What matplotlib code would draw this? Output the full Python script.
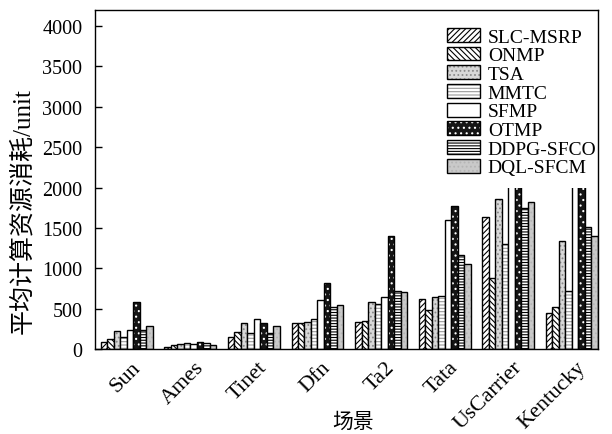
import numpy as np
import matplotlib
matplotlib.use("Agg")
import matplotlib.pyplot as plt
import matplotlib.transforms as mtransforms
from matplotlib.patches import Rectangle
from matplotlib.legend_handler import HandlerTuple

plt.rcParams['font.family'] = ['Liberation Serif', 'Noto Sans CJK SC']
plt.rcParams['hatch.linewidth'] = 0.8

scenes = ["Sun", "Ames", "Tinet", "Dfn", "Ta2", "Tata", "UsCarrier", "Kentucky"]
methods = ["SLC-MSRP", "ONMP", "TSA", "MMTC", "SFMP", "OTMP", "DDPG-SFCO", "DQL-SFCM"]

# values (tall UsCarrier/Kentucky bars sit behind the legend)
slc_msrp = [95, 33, 145, 318, 334, 615, 1631, 450]
onmp = [132, 50, 212, 318, 347, 482, 883, 516]
tsa = [227, 64, 328, 332, 586, 640, 1858, 1337]
mmtc = [145, 80, 196, 375, 561, 656, 1304, 722]
sfmp = [235, 62, 371, 603, 644, 1602, 2600, 2400]
otmp = [590, 95, 320, 817, 1395, 1775, 3200, 3700]
ddpg_sfco = [243, 74, 206, 516, 722, 1160, 1742, 1507]
dql_sfcm = [293, 54, 293, 545, 710, 1049, 1820, 1395]

series = [slc_msrp, onmp, tsa, mmtc, sfmp, otmp, ddpg_sfco, dql_sfcm]

# (facecolor, hatch colour, hatch)
styles = [
    ("white", "black", "//////"),
    ("white", "black", "\\\\\\\\\\\\"),
    ("#d8d8d8", "#8a8a8a", "...."),
    ("white", "#9a9a9a", "-----"),
    ("white", "white", ""),
    ("#151515", "white", "..."),
    ("white", "black", "------"),
    ("#c9c9c9", "#b5b5b5", "...."),
]

fig = plt.figure(figsize=(6.12, 4.35), dpi=100)
ax = fig.add_axes([0.155, 0.195, 0.822, 0.78])

x = np.arange(len(scenes))
w = 0.102
handles = []
for i, (vals, (fc, hc, h)) in enumerate(zip(series, styles)):
    pos = x + (i - 3.5) * w
    fill = ax.bar(pos, vals, w, color=fc, edgecolor=hc, hatch=h, linewidth=0)
    edge = ax.bar(pos, vals, w, facecolor="none", edgecolor="black", linewidth=1.0)
    handles.append((fill, edge))

ax.set_xlim(-0.5, 7.41)
ax.set_ylim(0, 4200)
ax.set_yticks(np.arange(0, 4001, 500))
ax.tick_params(axis='y', direction='in', length=5, labelsize=14.5, width=1, pad=9)
ax.tick_params(axis='x', length=0, labelsize=16, pad=6)
ax.set_xticks(x)
ax.set_xticklabels(scenes, rotation=45, ha='right', rotation_mode='anchor')
shift = mtransforms.ScaledTranslation(0.04, 0, fig.dpi_scale_trans)
for lab in ax.get_xticklabels():
    lab.set_transform(lab.get_transform() + shift)
for s in ax.spines.values():
    s.set_linewidth(1.0)
    s.set_zorder(6)

ax.set_ylabel("平均计算资源消耗/unit", fontsize=18)
ax.yaxis.set_label_coords(-0.143, 0.41)
ax.yaxis.label.set_va('center')
ax.set_xlabel("场景", fontsize=15)
ax.xaxis.set_label_coords(0.513, -0.215)
ax.xaxis.label.set_va('center')

# white block behind the legend hides the tops of the tall bars
ax.add_patch(Rectangle((0.686, 0.475), 0.314, 0.525, transform=ax.transAxes,
                       facecolor='white', edgecolor='none', zorder=4))

leg = ax.legend(handles, methods, loc='upper left', bbox_to_anchor=(0.70, 0.947),
                fontsize=14, frameon=False, borderpad=0.0,
                labelspacing=0.05, handlelength=1.7, handleheight=0.72,
                handletextpad=0.4, borderaxespad=0.0,
                handler_map={tuple: HandlerTuple(ndivide=1, pad=0)})
leg.set_zorder(5)

fig.savefig("out.png", dpi=100)
